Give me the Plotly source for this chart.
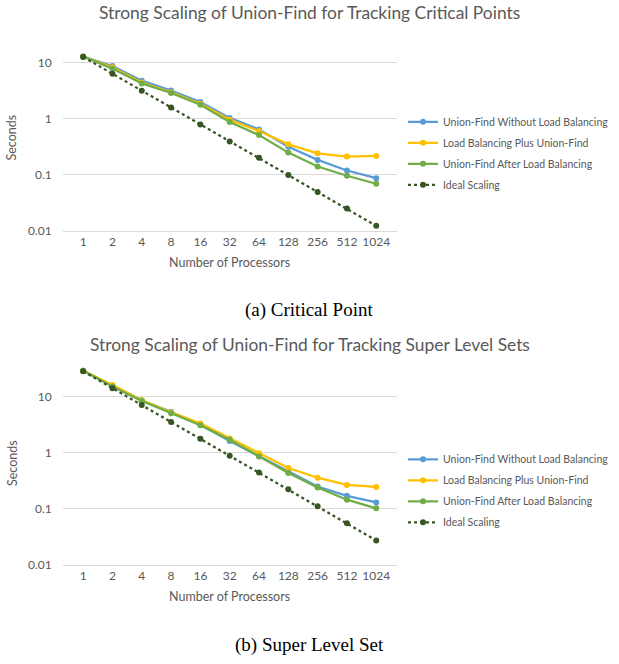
import plotly.graph_objects as go

processors = ["1", "2", "4", "8", "16", "32", "64", "128", "256", "512", "1024"]

# (a) Critical Point
cp_without_lb = [12.8, 8.7, 4.75, 3.16, 1.97, 1.03, 0.64, 0.316, 0.184, 0.119, 0.087]
cp_lb_plus_uf = [12.8, 8.2, 4.4, 2.95, 1.84, 0.96, 0.60, 0.348, 0.241, 0.211, 0.216]
cp_uf_after_lb = [12.8, 7.8, 4.25, 2.87, 1.77, 0.87, 0.51, 0.248, 0.140, 0.096, 0.069]
cp_ideal = [12.6, 6.3, 3.15, 1.58, 0.79, 0.39, 0.20, 0.099, 0.049, 0.025, 0.0123]

# (b) Super Level Set
sls_without_lb = [28.6, 15.4, 8.5, 5.3, 3.1, 1.6, 0.86, 0.45, 0.247, 0.169, 0.129]
sls_lb_plus_uf = [28.6, 16.0, 8.5, 5.2, 3.3, 1.78, 0.97, 0.53, 0.355, 0.264, 0.243]
sls_uf_after_lb = [28.6, 15.0, 8.3, 5.0, 3.05, 1.69, 0.85, 0.43, 0.237, 0.144, 0.101]
sls_ideal = [28.0, 14.0, 7.0, 3.5, 1.75, 0.875, 0.44, 0.22, 0.11, 0.055, 0.027]

series_names = [
    "Union-Find Without Load Balancing",
    "Load Balancing Plus Union-Find",
    "Union-Find After Load Balancing",
    "Ideal Scaling",
]
colors = ["#5B9BD5", "#FFC000", "#70AD47", "#375623"]
dashes = ["solid", "solid", "solid", "dot"]

y_ticks = [0.01, 0.1, 1, 10]
y_ticktext = ["0.01", "0.1", "1", "10"]

FONT = "Lato"
GRAY = "#595959"

fig = go.Figure()

panels = [
    ([cp_without_lb, cp_lb_plus_uf, cp_uf_after_lb, cp_ideal], "x", "y", "legend", "a"),
    ([sls_without_lb, sls_lb_plus_uf, sls_uf_after_lb, sls_ideal], "x2", "y2", "legend2", "b"),
]
for data, xa, ya, lg, tag in panels:
    for i, (name, vals, c, d) in enumerate(zip(series_names, data, colors, dashes)):
        fig.add_trace(go.Scatter(
            x=processors, y=vals, name=name, mode="lines+markers",
            line=dict(color=c, width=2.25, dash=d),
            marker=dict(color=c, size=6, symbol="circle"),
            xaxis=xa, yaxis=ya, legend=lg, legendgroup=f"{tag}{i}",
        ))

W = 619
H = 664
def px(p):
    return p / W
def py(p):
    return 1 - p / H

xdom = [px(62.7), px(396.7)]
axis_common_x = dict(
    type="category", showgrid=False, zeroline=False, showline=True,
    linecolor="#D9D9D9", linewidth=1, ticks="",
    tickfont=dict(family=FONT, size=12, color=GRAY), domain=xdom,
)
axis_common_y = dict(
    type="log", tickvals=y_ticks, ticktext=y_ticktext, showgrid=True,
    gridcolor="#D9D9D9", gridwidth=1, zeroline=False, showline=False, ticks="",
    ticklabelstandoff=10,
    tickfont=dict(family=FONT, size=12, color=GRAY),
)
legend_common = dict(
    xanchor="left", yanchor="top",
    font=dict(family=FONT, size=10.5, color=GRAY), bgcolor="rgba(0,0,0,0)",
    itemwidth=30, tracegroupgap=2, traceorder="grouped",
)

fig.update_layout(
    width=W, height=H,
    margin=dict(l=0, r=0, t=0, b=0),
    paper_bgcolor="white", plot_bgcolor="white",
    showlegend=True,
    xaxis=dict(**axis_common_x, anchor="y"),
    yaxis=dict(**axis_common_y, domain=[py(233.3), py(45)], range=[-2, 1.321], anchor="x"),
    xaxis2=dict(**axis_common_x, anchor="y2"),
    yaxis2=dict(**axis_common_y, domain=[py(570.7), py(365)], range=[-2, 1.628], anchor="x2"),
    legend=dict(x=px(403), y=py(108.5), **legend_common),
    legend2=dict(x=px(403), y=py(449.5), **legend_common),
)

ann = [
    dict(text="Strong Scaling of Union-Find for Tracking Critical Points", x=px(309), y=py(13),
         font=dict(family=FONT, size=17.4, color=GRAY)),
    dict(text="Strong Scaling of Union-Find for Tracking Super Level Sets", x=px(310), y=py(348),
         font=dict(family=FONT, size=17.4, color=GRAY)),
    dict(text="Number of Processors", x=px(229.7), y=py(265),
         font=dict(family=FONT, size=12.5, color=GRAY)),
    dict(text="Number of Processors", x=px(229.7), y=py(603),
         font=dict(family=FONT, size=12.5, color=GRAY)),
    dict(text="Seconds", x=px(12), y=py(139), textangle=-90,
         font=dict(family=FONT, size=12.5, color=GRAY)),
    dict(text="Seconds", x=px(12), y=py(468), textangle=-90,
         font=dict(family=FONT, size=12.5, color=GRAY)),
    dict(text="(a) Critical Point", x=px(309), y=py(313),
         font=dict(family="Liberation Serif", size=19, color="black")),
    dict(text="(b) Super Level Set", x=px(309), y=py(651.5),
         font=dict(family="Liberation Serif", size=19, color="black")),
]
for a in ann:
    fig.add_annotation(xref="paper", yref="paper", showarrow=False,
                       xanchor="center", yanchor="middle", **a)

# remove the browser's default 8px body margin so the figure fills the window
fig.write_html("out.html", config={"displayModeBar": False},
               post_script="document.body.style.margin='0px';")
